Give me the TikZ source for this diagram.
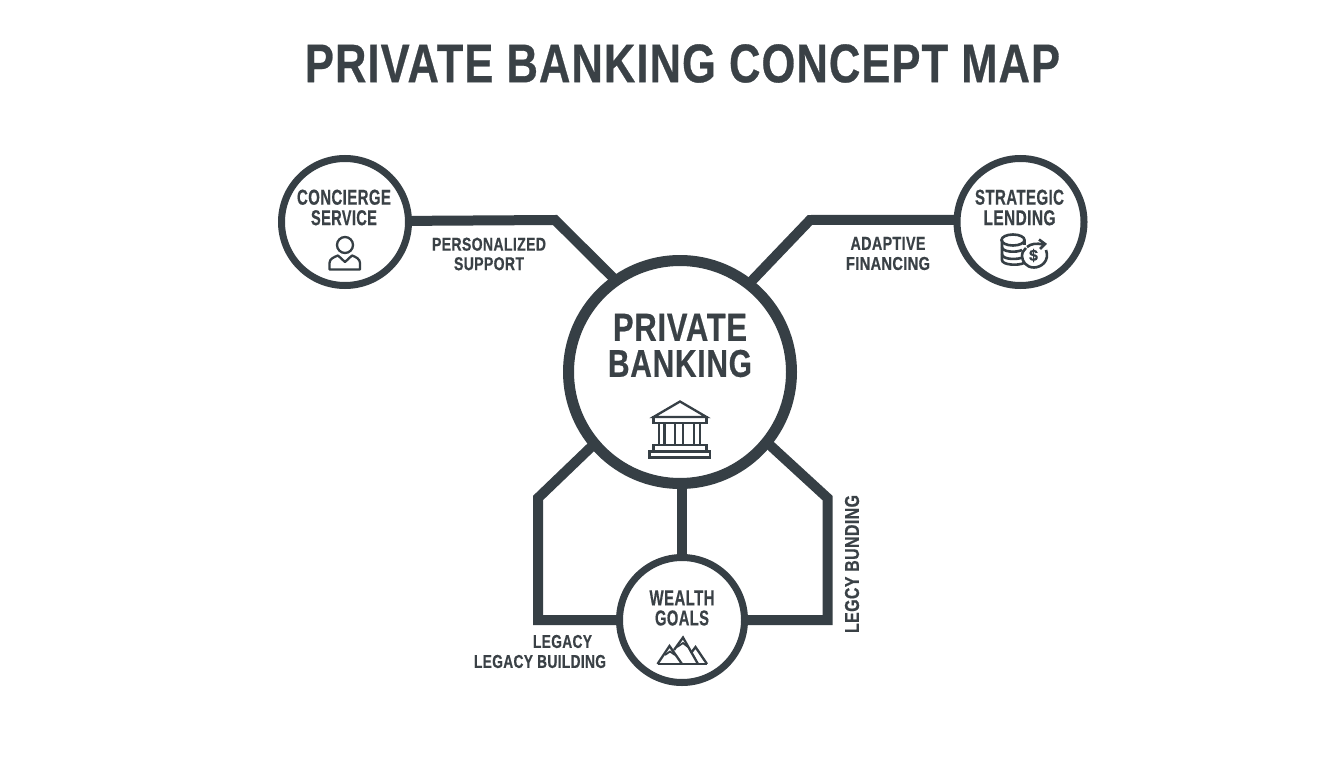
\documentclass[tikz,border=0pt]{standalone}
\usepackage{fontspec}
\usepackage{graphicx}
\setmainfont[BoldFeatures={LetterSpace=2.5,FakeBold=0.6}]{Liberation Sans}
\usetikzlibrary{backgrounds}
\definecolor{ink}{HTML}{363F45}
\definecolor{txt}{HTML}{3A4146}
\newcommand{\fitw}[3]{\resizebox{#1pt}{#2pt}{\bfseries #3}}
\tikzset{
  hub/.style={circle,draw=ink,fill=white,line width=#1,inner sep=0pt,outer sep=0pt},
  link/.style={draw=ink,line width=10pt,line join=miter,line cap=butt},
  lab/.style={text=txt,align=center,inner sep=0pt,font=\fontsize{14}{#1}\selectfont},
  lab/.default={20},
  icon/.style={draw=ink,line width=2.3pt,line join=miter,fill=none},
}
\begin{document}
\begin{tikzpicture}[x=1pt,y=-1pt]
\useasboundingbox (0,0) rectangle (1344,768);
% hubs
\node[hub=11pt,minimum size=223pt] (ctr) at (680,372) {};
\node[hub=7pt,minimum size=127pt] (conc) at (345,222) {};
\node[hub=7pt,minimum size=127pt] (lend) at (1020.5,222) {};
\node[hub=7pt,minimum size=125pt] (goal) at (682,620) {};
% connectors
\begin{scope}[on background layer]
\fill[white] (0,0) rectangle (1344,768);
\draw[link] (conc.1.8) -- (555,220) -- (ctr.125.6);
\draw[link] (lend.178.2) -- (810,220) -- (ctr.52);
\draw[link] (ctr.south -| goal.north) -- (goal.north);
\draw[link] (ctr.220.4) -- (538,498) |- (goal.west);
\draw[link] (ctr.-39.2) -- (827.5,498) |- (goal.east);
\end{scope}
% title
\node[text=txt,inner sep=0pt] (title) at (682.5,63.5) {\fitw{755}{38}{PRIVATE BANKING CONCEPT MAP}};
% hub texts
\node[lab=36] (ctrtxt) at (680,345.5) {\fitw{134}{27}{PRIVATE}\\\fitw{144}{27}{BANKING}};
\node[lab=20.5] (conctxt) at (344,207.5) {\fitw{94}{15}{CONCIERGE}\\\fitw{66}{15}{SERVICE}};
\node[lab=20.5] (lendtxt) at (1019.5,207.5) {\fitw{89}{15}{STRATEGIC}\\\fitw{72}{15}{LENDING}};
\node[lab=20] (goaltxt) at (682,608) {\fitw{65}{15}{WEALTH}\\\fitw{54}{15}{GOALS}};
% connector labels
\node[lab=19.5] (persl) at (489,254) {\fitw{114}{13}{PERSONALIZED}\\\fitw{70}{13}{SUPPORT}};
\node[lab=20] (adapl) at (888,253.5) {\fitw{75}{13}{ADAPTIVE}\\\fitw{84}{13}{FINANCING}};
\node[lab=20] (legl) at (540,651.5) {\hspace*{45pt}\fitw{59}{13}{LEGACY}\\\fitw{132}{13}{LEGACY BUILDING}};
\node[text=txt,inner sep=0pt,rotate=90] (legr) at (852,564) {\fitw{138}{14}{LEGCY BUNDING}};
% person icon
\draw[icon] (345,245) circle (8);
\draw[icon,line join=round] (329.5,269.5) -- (360,269.5) -- (360,263)
  .. controls (360,259) and (356,257) .. (352,255.5) -- (345,262) -- (338,255.5)
  .. controls (334,257) and (329.5,259) .. (329.5,263) -- cycle;
% coin icon
\draw[icon,line width=2.6pt] (1002,240) -- (1002,260) .. controls (1002,265) and (1018,266) .. (1024,263);
\draw[icon,line width=2.6pt] (1002,247) .. controls (1002,252) and (1016,253) .. (1022,250);
\draw[icon,line width=2.6pt] (1002,254) .. controls (1002,259) and (1014,260) .. (1021,258);
\draw[icon,line width=2.6pt] (1013,240) ellipse (11.5 and 5.5);
\draw[icon,line width=2.6pt] (1024.5,240) -- (1024.5,245);
\draw[icon,line width=2.6pt] (1027,247) .. controls (1031,243.5) and (1037,243) .. (1043,244.5);
\draw[icon,line width=2.6pt] (1039,239.5) -- (1045,244) -- (1040,249);
\draw[icon,line width=2.6pt] (1046,250) .. controls (1050,261) and (1041,267.5) .. (1034,267.5)
  .. controls (1026,267.5) and (1022,261) .. (1022,256) .. controls (1022,252) and (1024,250) .. (1026,248);
\node[text=ink,inner sep=0pt,font=\fontsize{16}{16}\selectfont\bfseries] (dollar) at (1033.5,255.5) {\$};
% bank icon
\draw[icon] (653.5,417) -- (680,401.5) -- (706.5,417) -- cycle;
\draw[icon] (653.5,417) rectangle (706.5,423);
\draw[icon] (659,423) -- (659,445) (664.5,423) -- (664.5,445)
  (675,423) -- (675,445) (683,423) -- (683,445)
  (694,423) -- (694,445) (700,423) -- (700,445);
\draw[icon] (653.5,445) rectangle (706.5,451);
\draw[icon] (649.5,451.5) rectangle (710,457.5);
% mountain icon
\draw[icon] (657.5,664) -- (707,664);
\draw[icon] (657.5,664) -- (669.5,646) -- (682,664);
\draw[icon] (674,650) -- (683,637.5) -- (698,664);
\draw[icon] (691,653) -- (695.5,647) -- (707,664);
\draw[icon,line width=1.8pt] (665,655) -- (670,651.5) -- (675,655);
\draw[icon,line width=1.8pt] (677,647) -- (683,643) -- (688,647);
\end{tikzpicture}
\end{document}
